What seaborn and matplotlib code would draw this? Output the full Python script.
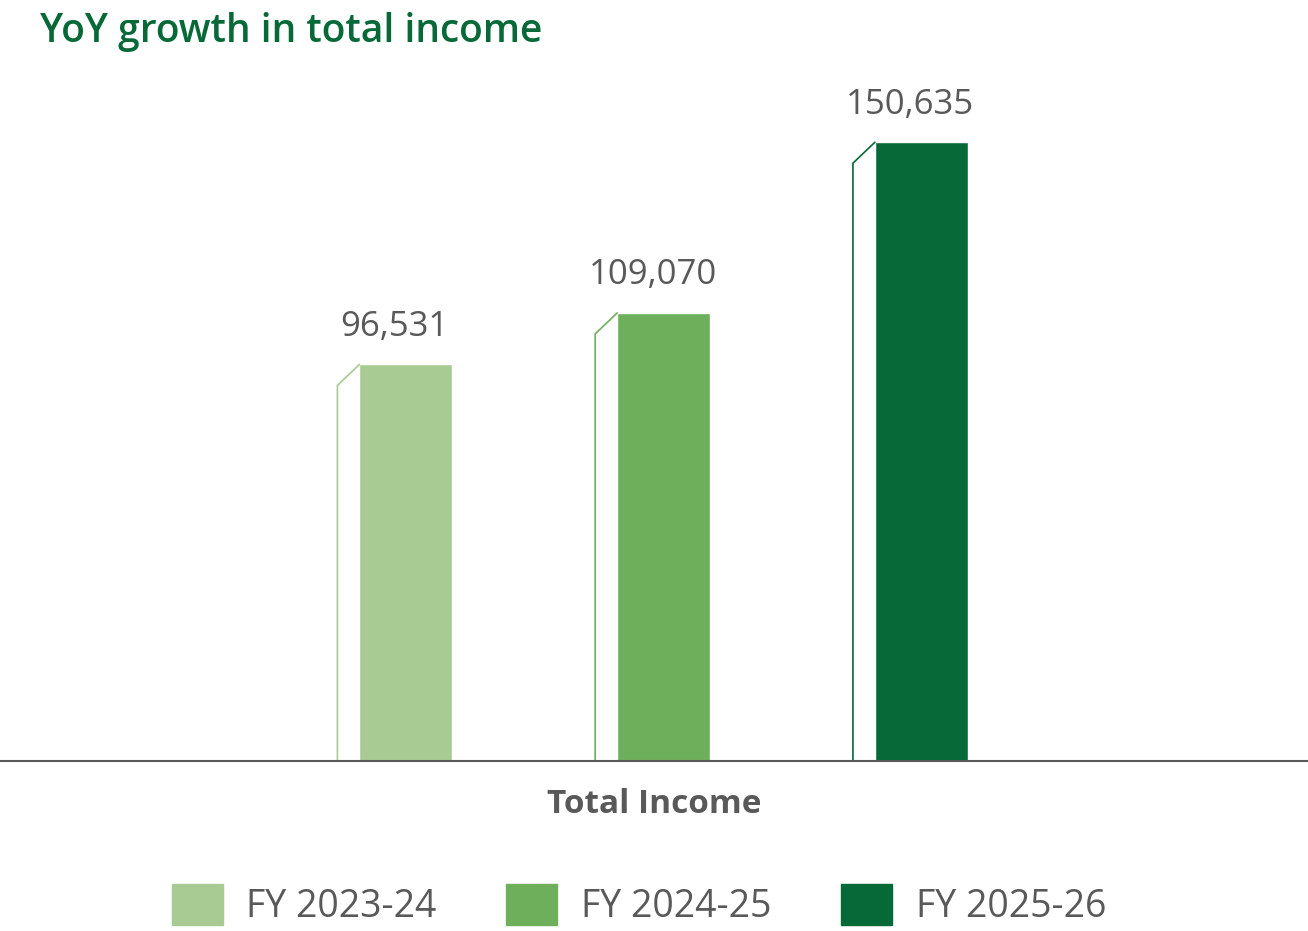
import numpy as np
import pandas as pd
import matplotlib
matplotlib.use('Agg')
import matplotlib.pyplot as plt
import seaborn as sns

# ── Data ─────────────────────────────────────────────────────
category = 'Total Income'
years    = ['FY 2023-24', 'FY 2024-25', 'FY 2025-26']
values   = [96531, 109070, 150635]
colors   = ['#A8CB93', '#6EAF5C', '#066937']

GREY  = '#595959'
GREEN = '#066937'

df = pd.DataFrame({'metric': [category] * len(years),
                   'year': years, 'value': values})

sns.set_theme(style='white')
plt.rcParams['font.family'] = ['Open Sans', 'DejaVu Sans']

fig = plt.figure(figsize=(13.08, 9.31), dpi=100)
ax = fig.add_axes([0, 170 / 931, 1, 701 / 931])

sns.barplot(data=df, x='metric', y='value', hue='year', palette=colors,
            width=0.8, gap=0.64, saturation=1, legend=False, ax=ax)

ax.set_xlim(-0.6865, 0.6667)
ax.set_ylim(0, 170643)

# fake 3D side face + value labels
dx, dy = 0.02276, 5112
for patch, col, v in zip(ax.patches, colors, values):
    x0, w, h = patch.get_x(), patch.get_width(), patch.get_height()
    ax.plot([x0 - dx, x0 - dx, x0], [0, h - dy, h], color=col, lw=1.2,
            solid_joinstyle='miter')
    ax.annotate(f'{v:,}', xy=((x0 - dx + x0 + w) / 2, h), xytext=(0, 20.5),
                textcoords='offset points', ha='center', va='baseline',
                fontsize=25, color=GREY)

for s in ['top', 'left', 'right']:
    ax.spines[s].set_visible(False)
ax.spines['bottom'].set_color(GREY)
ax.spines['bottom'].set_linewidth(1.5)
ax.set_xticks([]); ax.set_yticks([])
ax.set_xlabel(''); ax.set_ylabel('')

fig.text(654 / 1308, 1 - 813 / 931, category, ha='center', va='baseline',
         fontsize=24, fontweight='bold', color=GREY)

fig.text(40 / 1308, 1 - 42 / 931, 'YoY growth in total income', ha='left',
         va='baseline', fontsize=28, fontweight='semibold', color=GREEN)

handles = [plt.Rectangle((0, 0), 1, 1, color=c) for c in colors]
leg = fig.legend(handles, years, loc='center', ncol=3,
                 bbox_to_anchor=(639 / 1308, 1 - 905 / 931), frameon=False,
                 prop={'size': 27},
                 handlelength=1.36, handleheight=1.28,
                 handletextpad=0.64, columnspacing=1.85, borderpad=0)
for t in leg.get_texts():
    t.set_color(GREY)

fig.savefig('out.png', dpi=100)
